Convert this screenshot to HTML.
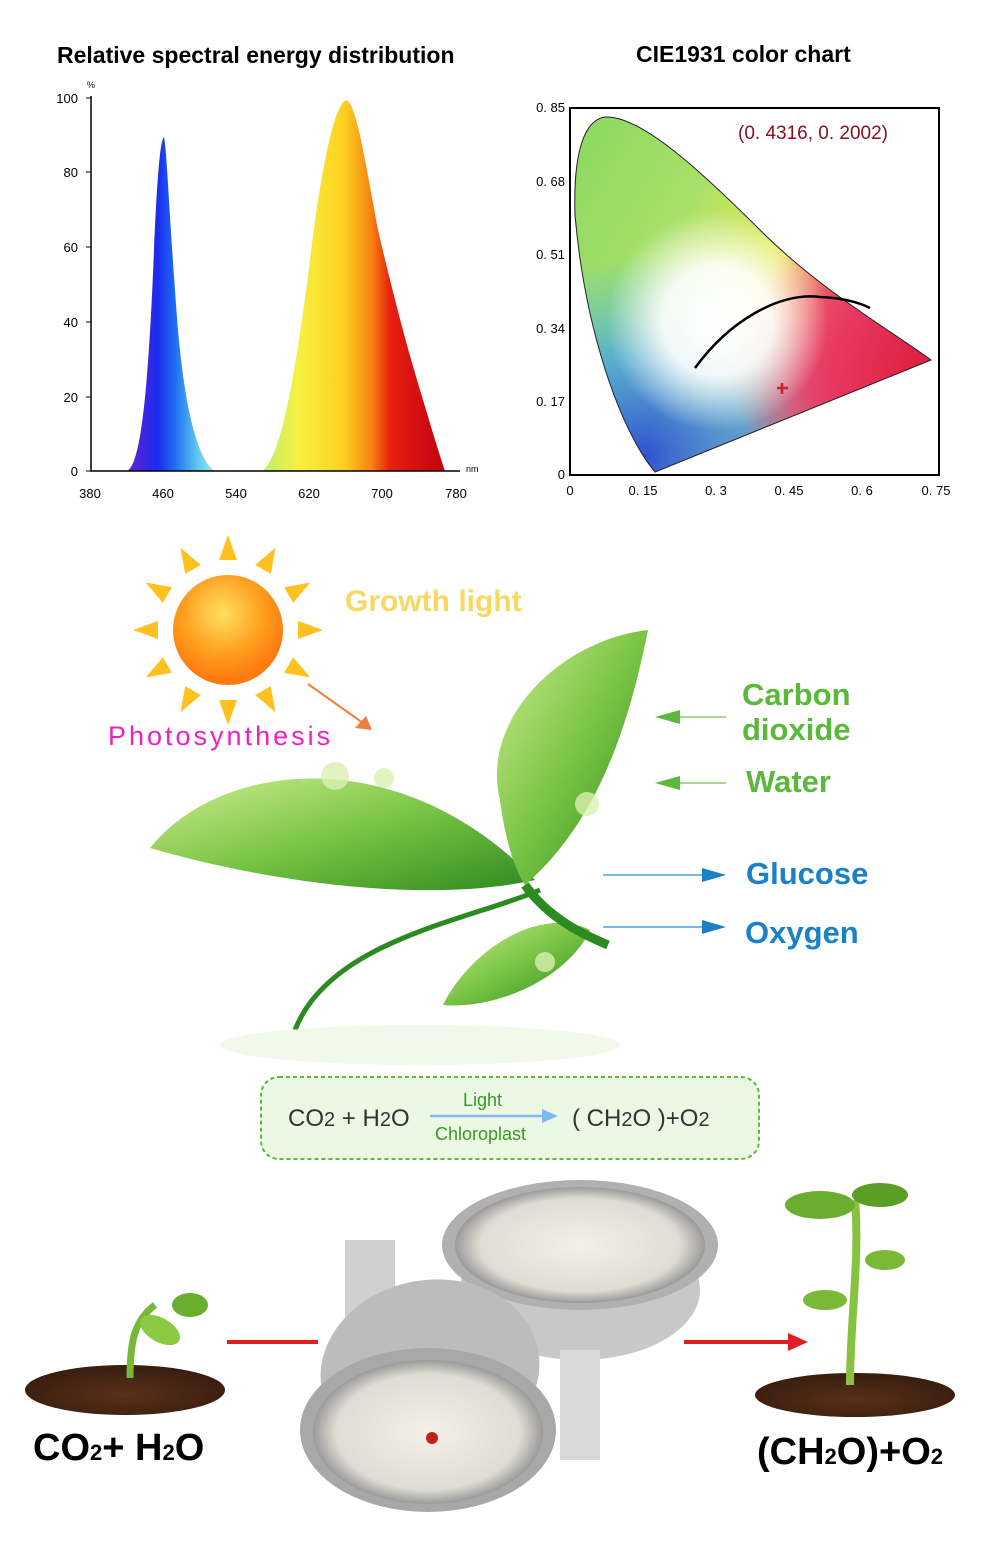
<!DOCTYPE html>
<html><head><meta charset="utf-8"><style>
html,body{margin:0;padding:0;background:#fff;}
svg{display:block;}
text{font-family:"Liberation Sans",sans-serif;}
</style></head><body>
<svg width="989" height="1553" viewBox="0 0 989 1553" xmlns="http://www.w3.org/2000/svg">
<defs>
<linearGradient id="blu" x1="0" x2="1" y1="0" y2="0">
<stop offset="0" stop-color="#6a1fd0"/><stop offset="0.35" stop-color="#1a2cf0"/><stop offset="0.55" stop-color="#1f6ff0"/><stop offset="0.8" stop-color="#5ec8f0"/><stop offset="1" stop-color="#a0e8f0"/></linearGradient>
<linearGradient id="yr" x1="0" x2="1" y1="0" y2="0">
<stop offset="0" stop-color="#b8f070"/><stop offset="0.2" stop-color="#f8f040"/><stop offset="0.45" stop-color="#fcd020"/><stop offset="0.6" stop-color="#f88010"/><stop offset="0.7" stop-color="#e82010"/><stop offset="1" stop-color="#c00010"/></linearGradient>
<linearGradient id="cg" x1="0" y1="0" x2="1" y2="0.6"><stop offset="0" stop-color="#88d860"/><stop offset="0.35" stop-color="#a8e068"/><stop offset="0.6" stop-color="#e8ec50"/><stop offset="0.8" stop-color="#f06060"/><stop offset="1" stop-color="#e02040"/></linearGradient>
<radialGradient id="cbl" cx="0.2" cy="0.95" r="0.55"><stop offset="0" stop-color="#3050d0"/><stop offset="0.5" stop-color="#40a0e8" stop-opacity="0.8"/><stop offset="1" stop-color="#40c0f0" stop-opacity="0"/></radialGradient>
<radialGradient id="cr" cx="0.95" cy="0.7" r="0.5"><stop offset="0" stop-color="#e02040"/><stop offset="0.6" stop-color="#e83a6a" stop-opacity="0.8"/><stop offset="1" stop-color="#f06080" stop-opacity="0"/></radialGradient>
<radialGradient id="cw" cx="0.4" cy="0.58" r="0.3"><stop offset="0" stop-color="#ffffff"/><stop offset="0.5" stop-color="#ffffff" stop-opacity="0.9"/><stop offset="1" stop-color="#fff" stop-opacity="0"/></radialGradient>
<radialGradient id="sun" cx="0.45" cy="0.35" r="0.6"><stop offset="0" stop-color="#ffe060"/><stop offset="0.6" stop-color="#ffa020"/><stop offset="1" stop-color="#ff7a10"/></radialGradient>
<linearGradient id="leaf" x1="0" y1="0" x2="1" y2="1"><stop offset="0" stop-color="#d0ee90"/><stop offset="0.5" stop-color="#78c444"/><stop offset="1" stop-color="#2f8a20"/></linearGradient>
<radialGradient id="lamp" cx="0.5" cy="0.5" r="0.5"><stop offset="0" stop-color="#f4f0e8"/><stop offset="0.8" stop-color="#e0dcd4"/><stop offset="1" stop-color="#9a9a9a"/></radialGradient>
<radialGradient id="soil" cx="0.5" cy="0.6" r="0.55"><stop offset="0" stop-color="#5a3018"/><stop offset="1" stop-color="#3a1e10"/></radialGradient>
<clipPath id="hsc"><path d="M575,215 C573,150 585,120 605,117 C640,115 700,170 760,230 C820,290 890,330 931,360 L655,472 C620,430 585,330 575,215 Z"/></clipPath>
</defs>

<text x="57" y="63" font-size="23" font-weight="bold" fill="#000">Relative spectral energy distribution</text>
<path d="M127,471 C140,465 148,400 154,250 C158,160 161,140 164,137 C167,150 170,230 178,330 C186,420 200,462 215,471 Z" fill="url(#blu)"/>
<path d="M262,471 C280,460 295,380 310,260 C322,160 335,105 346,100 C356,102 365,160 378,230 C392,290 405,340 420,390 C432,430 438,450 445,471 Z" fill="url(#yr)"/>
<g stroke="#000" stroke-width="1.5" fill="none"><path d="M91,96 V471 H460"/></g>
<g stroke="#000" stroke-width="1"><path d="M86,98H91M86,172H91M86,247H91M86,322H91M86,397H91M86,471H91"/></g>
<g font-size="13" fill="#000" text-anchor="end">
<text x="78" y="103">100</text><text x="78" y="177">80</text><text x="78" y="252">60</text><text x="78" y="327">40</text><text x="78" y="402">20</text><text x="78" y="476">0</text></g>
<text x="87" y="88" font-size="9">%</text><text x="466" y="472" font-size="9">nm</text>
<g font-size="13" fill="#000" text-anchor="middle">
<text x="90" y="498">380</text><text x="163" y="498">460</text><text x="236" y="498">540</text><text x="309" y="498">620</text><text x="382" y="498">700</text><text x="456" y="498">780</text></g>

<text x="636" y="62" font-size="23" font-weight="bold" fill="#000">CIE1931 color chart</text>
<rect x="570" y="108" width="369" height="367" fill="#fff" stroke="#000" stroke-width="2"/>
<g clip-path="url(#hsc)">
<rect x="570" y="108" width="369" height="367" fill="url(#cg)"/>
<rect x="570" y="108" width="369" height="367" fill="url(#cbl)"/>
<rect x="570" y="108" width="369" height="367" fill="url(#cr)"/>
<rect x="570" y="108" width="369" height="367" fill="url(#cw)"/>
</g>
<path d="M575,215 C573,150 585,120 605,117 C640,115 700,170 760,230 C820,290 890,330 931,360 L655,472 C620,430 585,330 575,215 Z" fill="none" stroke="#222" stroke-width="1"/>
<path d="M695,368 C730,320 780,292 820,297 C845,298 860,303 870,308" stroke="#000" stroke-width="2.5" fill="none"/>
<path d="M777,388H788M782,383V394" stroke="#d02020" stroke-width="2.5"/>
<text x="738" y="139" font-size="19" fill="#8a1020" font-family="Liberation Serif,serif">(0. 4316,  0. 2002)</text>
<g font-size="13" fill="#000" text-anchor="end" font-family="Liberation Serif,serif">
<text x="565" y="112">0. 85</text><text x="565" y="186">0. 68</text><text x="565" y="259">0. 51</text><text x="565" y="333">0. 34</text><text x="565" y="406">0. 17</text><text x="565" y="479">0</text></g>
<g font-size="13" fill="#000" text-anchor="middle" font-family="Liberation Serif,serif">
<text x="570" y="495">0</text><text x="643" y="495">0. 15</text><text x="716" y="495">0. 3</text><text x="789" y="495">0. 45</text><text x="862" y="495">0. 6</text><text x="936" y="495">0. 75</text></g>

<g fill="#ffc020">
<g transform="translate(228,630)">
<g id="ray"><polygon points="-9,-70 9,-70 0,-95"/></g>
<use href="#ray" transform="rotate(30)"/><use href="#ray" transform="rotate(60)"/><use href="#ray" transform="rotate(90)"/><use href="#ray" transform="rotate(120)"/><use href="#ray" transform="rotate(150)"/><use href="#ray" transform="rotate(180)"/><use href="#ray" transform="rotate(210)"/><use href="#ray" transform="rotate(240)"/><use href="#ray" transform="rotate(270)"/><use href="#ray" transform="rotate(300)"/><use href="#ray" transform="rotate(330)"/>
</g></g>
<circle cx="228" cy="630" r="55" fill="url(#sun)"/>
<text x="345" y="611" font-size="30" font-weight="bold" fill="#f8d860">Growth light</text>
<text x="108" y="745" font-size="27" fill="#f020c0" letter-spacing="3">Photosynthesis</text>
<path d="M308,684 L370,728" stroke="#f08040" stroke-width="2"/><path d="M372,730 L355,728 L366,716Z" fill="#f08040"/>

<!-- Leaves -->
<path d="M150,848 C220,760 400,740 535,880 C420,905 260,880 150,848 Z" fill="url(#leaf)"/>
<path d="M648,630 C560,640 480,720 500,800 C505,840 515,870 525,885 C600,820 630,720 648,630 Z" fill="url(#leaf)"/>
<path d="M443,1005 C470,950 540,905 590,930 C570,975 500,1010 443,1005 Z" fill="url(#leaf)"/>
<path d="M540,890 C470,920 330,940 295,1030" stroke="#2d8a20" stroke-width="5" fill="none"/>
<path d="M525,885 C550,920 585,935 608,945" stroke="#2d8a20" stroke-width="9" fill="none"/>
<ellipse cx="420" cy="1045" rx="200" ry="20" fill="#eef7e6" opacity="0.8"/>
<circle cx="335" cy="776" r="14" fill="#d8f0b0" opacity="0.8"/><circle cx="384" cy="778" r="10" fill="#d8f0b0" opacity="0.8"/><circle cx="587" cy="804" r="12" fill="#d8f0b0" opacity="0.8"/><circle cx="545" cy="962" r="10" fill="#d8f0b0" opacity="0.8"/>

<g font-size="31" font-weight="bold" fill="#5ab83a"><text x="742" y="705">Carbon</text><text x="742" y="740">dioxide</text><text x="746" y="792">Water</text></g>
<g stroke="#8cc870" stroke-width="1.5"><path d="M668,717H726M668,783H726"/></g>
<path d="M655,717L680,710L680,724Z M655,783L680,776L680,790Z" fill="#5ab83a"/>
<g font-size="31" font-weight="bold" fill="#1a80c8"><text x="746" y="884">Glucose</text><text x="745" y="943">Oxygen</text></g>
<g stroke="#4aa0e0" stroke-width="1.5"><path d="M603,875H705M603,927H705"/></g>
<path d="M726,875L702,868L702,882Z M726,927L702,920L702,934Z" fill="#1a80c8"/>

<rect x="261" y="1077" width="498" height="82" rx="18" fill="#eaf8e4" stroke="#5ab83a" stroke-width="2" stroke-dasharray="4,3"/>
<text x="288" y="1126" font-size="24" fill="#333">CO<tspan font-size="20">2</tspan> + H<tspan font-size="20">2</tspan>O</text>
<text x="463" y="1106" font-size="18" fill="#3a9a20">Light</text>
<text x="435" y="1140" font-size="18" fill="#3a9a20">Chloroplast</text>
<path d="M430,1116H548" stroke="#80b8f0" stroke-width="2.5"/><path d="M558,1116L542,1109L542,1123Z" fill="#80b8f0"/>
<text x="572" y="1126" font-size="24" fill="#333">( CH<tspan font-size="20">2</tspan>O )+O<tspan font-size="20">2</tspan></text>

<ellipse cx="125" cy="1390" rx="100" ry="25" fill="url(#soil)"/>
<path d="M130,1378 C130,1340 135,1320 155,1305" stroke="#78b838" stroke-width="7" fill="none"/>
<ellipse cx="160" cy="1330" rx="22" ry="12" fill="#8cc840" transform="rotate(30 160 1330)"/>
<ellipse cx="190" cy="1305" rx="18" ry="12" fill="#6aae30"/>
<ellipse cx="855" cy="1395" rx="100" ry="22" fill="url(#soil)"/>
<path d="M850,1385 C850,1320 860,1260 855,1200" stroke="#88c040" stroke-width="8" fill="none"/>
<ellipse cx="820" cy="1205" rx="35" ry="14" fill="#6aae30"/><ellipse cx="880" cy="1195" rx="28" ry="12" fill="#5a9e28"/>
<ellipse cx="825" cy="1300" rx="22" ry="10" fill="#7ab838"/><ellipse cx="885" cy="1260" rx="20" ry="10" fill="#7ab838"/>
<path d="M227,1342H318" stroke="#e02020" stroke-width="4"/>
<path d="M684,1342H795" stroke="#e02020" stroke-width="4"/><path d="M808,1342L788,1333L788,1351Z" fill="#e02020"/>
<ellipse cx="580" cy="1290" rx="120" ry="70" fill="#c8c8c8"/>
<rect x="560" y="1350" width="40" height="110" fill="#d8d8d8"/>
<ellipse cx="580" cy="1245" rx="138" ry="65" fill="#b0b0b0"/>
<ellipse cx="580" cy="1245" rx="125" ry="58" fill="url(#lamp)"/>
<rect x="345" y="1240" width="50" height="80" fill="#d0d0d0"/>
<ellipse cx="430" cy="1370" rx="110" ry="90" fill="#bcbcbc" transform="rotate(-10 430 1370)"/>
<ellipse cx="428" cy="1430" rx="128" ry="82" fill="#a8a8a8"/>
<ellipse cx="428" cy="1432" rx="115" ry="72" fill="url(#lamp)"/>
<circle cx="432" cy="1438" r="6" fill="#c02020"/>
<text x="33" y="1460" font-size="38" font-weight="bold" fill="#000">CO<tspan font-size="22">2</tspan>+ H<tspan font-size="22">2</tspan>O</text>
<text x="757" y="1464" font-size="38" font-weight="bold" fill="#000">(CH<tspan font-size="22">2</tspan>O)+O<tspan font-size="22">2</tspan></text>
</svg>
</body></html>
